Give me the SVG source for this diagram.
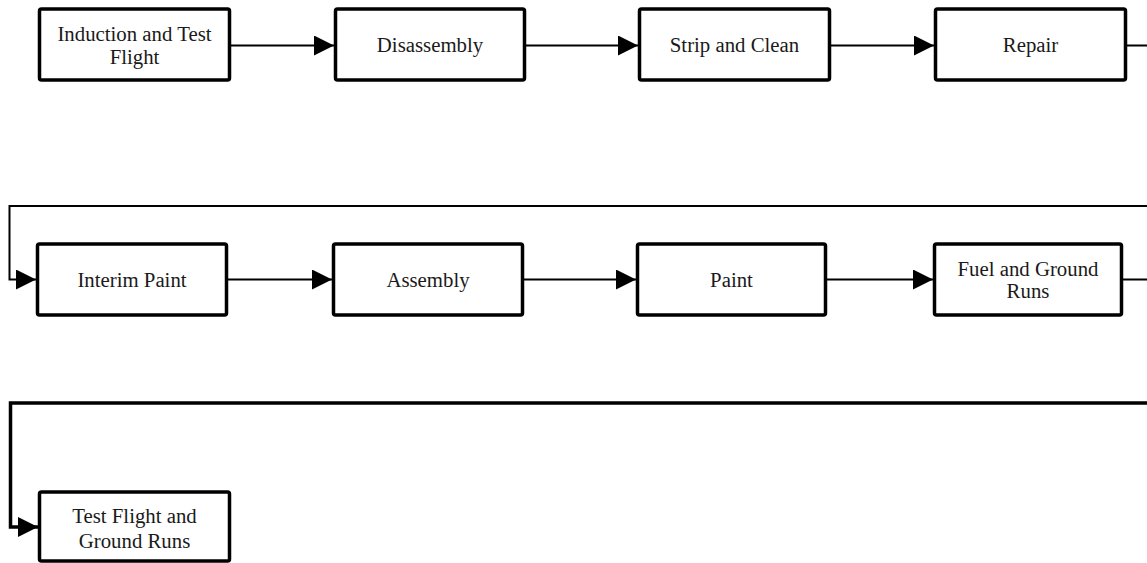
<svg xmlns="http://www.w3.org/2000/svg" width="1147" height="563" viewBox="0 0 1147 563">
  <style>
    .box { fill: #ffffff; stroke: #000000; stroke-width: 3.5; }
    .lbl { font-family: "Liberation Serif", "Times New Roman", serif; font-size: 20.8px; fill: #1a1a1a; text-anchor: middle; }
    .flow { fill: none; stroke: #000000; stroke-width: 2; }
    .wrap { fill: none; stroke: #000000; stroke-width: 2; }
    .wrap-heavy { fill: none; stroke: #000000; stroke-width: 3.5; }
  </style>
  <defs>
    <marker id="head" markerUnits="userSpaceOnUse" markerWidth="20" markerHeight="20" refX="20" refY="10" orient="auto">
      <path d="M0,0 L20,10 L0,20 Z" fill="#000000"/>
    </marker>
  </defs>

  <rect width="1147" height="563" fill="#ffffff"/>

  <!-- connectors -->
  <g id="connectors">
    <!-- row 1 -->
    <path class="flow" d="M230,45.5 H334" marker-end="url(#head)"/>
    <path class="flow" d="M526,45.5 H638" marker-end="url(#head)"/>
    <path class="flow" d="M831,45.5 H934" marker-end="url(#head)"/>
    <path class="flow" d="M1127,45.5 H1160"/>
    <!-- wrap to row 2 -->
    <path class="wrap" d="M1160,206 H9.5 V279.5 H36" marker-end="url(#head)"/>
    <!-- row 2 -->
    <path class="flow" d="M228,279.5 H332" marker-end="url(#head)"/>
    <path class="flow" d="M524,279.5 H636" marker-end="url(#head)"/>
    <path class="flow" d="M827,279.5 H933" marker-end="url(#head)"/>
    <path class="flow" d="M1123,279.5 H1160"/>
    <!-- wrap to row 3 -->
    <path class="wrap-heavy" d="M1160,403 H10.5 V527 H38" marker-end="url(#head)"/>
  </g>

  <!-- row 1 -->
  <g id="induction">
    <rect class="box" x="39.5" y="9" width="190" height="71" rx="2"/>
    <text class="lbl" x="134.5" y="41">Induction and Test</text>
    <text class="lbl" x="134.5" y="64">Flight</text>
  </g>
  <g id="disassembly">
    <rect class="box" x="335.5" y="9" width="189" height="71" rx="2"/>
    <text class="lbl" x="430" y="52">Disassembly</text>
  </g>
  <g id="strip-clean">
    <rect class="box" x="639.5" y="9" width="190" height="71" rx="2"/>
    <text class="lbl" x="734.5" y="52">Strip and Clean</text>
  </g>
  <g id="repair">
    <rect class="box" x="935.5" y="9" width="190" height="71" rx="2"/>
    <text class="lbl" x="1030.5" y="52">Repair</text>
  </g>

  <!-- row 2 -->
  <g id="interim-paint">
    <rect class="box" x="37.5" y="244" width="189" height="71" rx="2"/>
    <text class="lbl" x="132" y="287">Interim Paint</text>
  </g>
  <g id="assembly">
    <rect class="box" x="333.5" y="244" width="189" height="71" rx="2"/>
    <text class="lbl" x="428" y="287">Assembly</text>
  </g>
  <g id="paint">
    <rect class="box" x="637.5" y="244" width="188" height="71" rx="2"/>
    <text class="lbl" x="731.5" y="287">Paint</text>
  </g>
  <g id="fuel-ground">
    <rect class="box" x="934.5" y="244" width="187" height="71" rx="2"/>
    <text class="lbl" x="1028" y="275.5">Fuel and Ground</text>
    <text class="lbl" x="1028" y="298">Runs</text>
  </g>

  <!-- row 3 -->
  <g id="test-flight-ground">
    <rect class="box" x="39.5" y="492" width="190" height="69" rx="2"/>
    <text class="lbl" x="134.5" y="523">Test Flight and</text>
    <text class="lbl" x="134.5" y="548">Ground Runs</text>
  </g>
</svg>
